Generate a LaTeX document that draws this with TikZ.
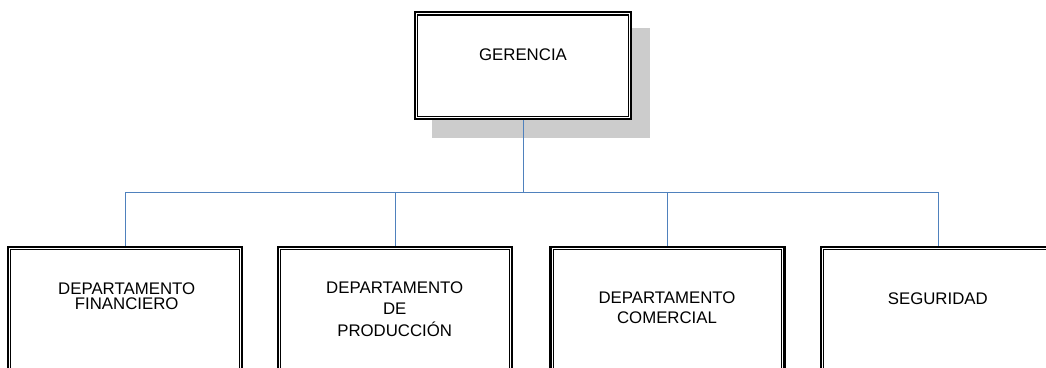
\documentclass[tikz,border=0pt]{standalone}
\usepackage{fontspec}
\setmainfont{Liberation Sans}
\definecolor{linkblue}{RGB}{79,129,189}
\definecolor{shadowgray}{RGB}{204,204,204}
\begin{document}
\begin{tikzpicture}[x=1pt,y=1pt,
  orgbox/.style={draw=black, line width=2.2pt, fill=white, rectangle, inner sep=0pt,
                 minimum width=234pt, minimum height=170pt, anchor=north},
  innerline/.style={draw=black, line width=1.1pt},
  lbl/.style={inner sep=0pt, align=center, anchor=north, text=black},
  link/.style={draw=linkblue, line width=1pt}]
\useasboundingbox (0,0) rectangle (1046,-367);
\clip (0,0) rectangle (1046,-367);
% shadow of top box
\fill[shadowgray] (432,-28) rectangle (650,-138);
% top box
\node[orgbox, minimum width=216pt, minimum height=107pt] (g) at (523,-11) {};
\draw[innerline] ([shift={(4,-4)}]g.north west) rectangle ([shift={(-4,4)}]g.south east);
\node[lbl, font={\fontsize{16.8}{15}\selectfont}] (tg) at (523,-48.3) {GERENCIA};
% department boxes
\node[orgbox] (d1) at (125,-246) {};
\node[orgbox] (d2) at (395,-246) {};
\node[orgbox] (d3) at (667.5,-246) {};
\node[orgbox] (d4) at (938,-246) {};
\foreach \b in {d1,d2,d3,d4}{
  \draw[innerline] ([shift={(3.8,-3.8)}]\b.north west) rectangle ([shift={(-3.8,3.8)}]\b.south east);
}
\node[lbl, font={\fontsize{16.8}{14.8}\selectfont\lineskiplimit=-50pt}] (t1) at (126.7,-282.7) {DEPARTAMENTO\\FINANCIERO};
\node[lbl, font={\fontsize{16.8}{20.7}\selectfont\lineskiplimit=-50pt}] (t2) at (394.7,-281.7) {DEPARTAMENTO\\DE\\[1.3pt]PRODUCCIÓN};
\node[lbl, font={\fontsize{16.8}{19.4}\selectfont\lineskiplimit=-50pt}] (t3) at (667,-291.7) {DEPARTAMENTO\\COMERCIAL};
\node[lbl, font={\fontsize{16.8}{15}\selectfont}] (t4) at (937.8,-292.7) {SEGURIDAD};
% connectors
\coordinate (bus) at (523,-192);
\draw[link] (g.south) -- (bus);
\draw[link] (d1.north) -- (d1.north |- bus) -- (d4.north |- bus) -- (d4.north);
\draw[link] (d2.north) -- (d2.north |- bus);
\draw[link] (d3.north) -- (d3.north |- bus);
\end{tikzpicture}
\end{document}
